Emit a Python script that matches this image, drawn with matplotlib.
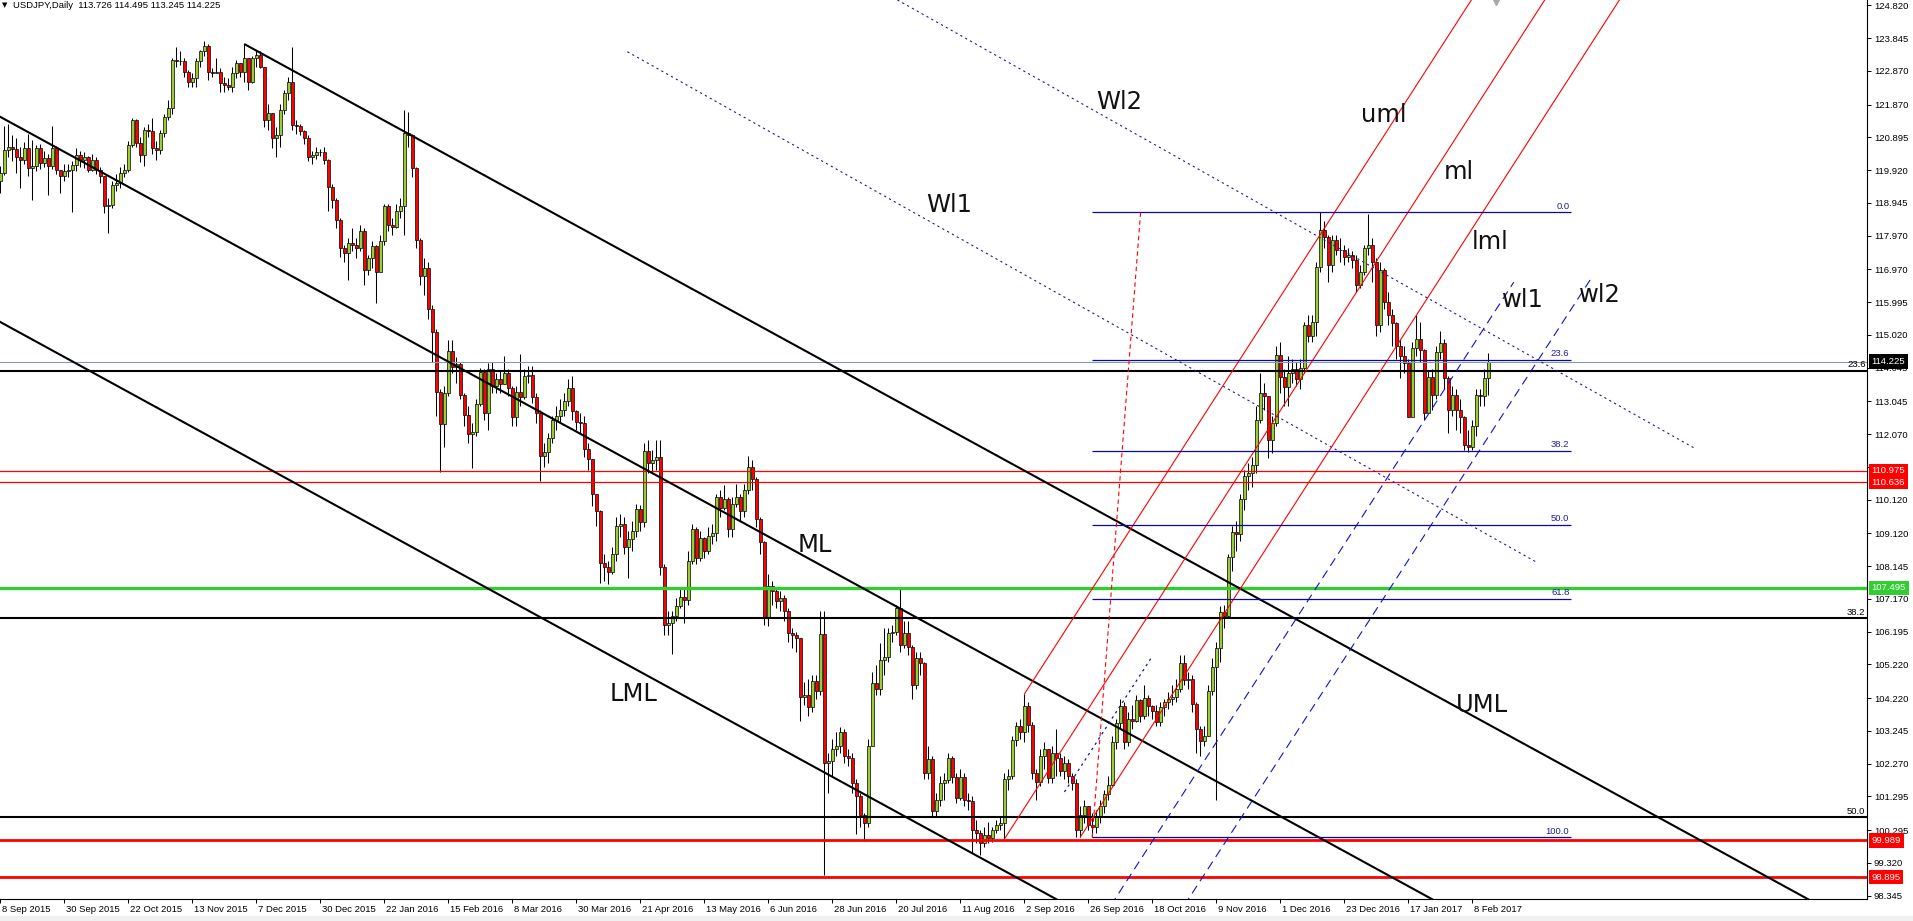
import numpy as np
import matplotlib
matplotlib.use("Agg")
import matplotlib.pyplot as plt
from matplotlib.transforms import blended_transform_factory, ScaledTranslation
from matplotlib.patches import Rectangle

plt.rcParams['font.family'] = ['Liberation Sans', 'DejaVu Sans']

# USDJPY daily bars, bar 0 = 8 Sep 2015, last bar = 14 Feb 2017
first_open = 119.60
closes = [
    119.83, 120.52, 120.62, 120.54, 120.30, 120.22, 120.57, 119.98, 120.05, 120.57,
    120.13, 120.27, 120.03, 120.57, 119.93, 119.73, 119.88, 119.92, 120.08, 120.37,
    120.22, 120.30, 119.93, 120.22, 119.93, 119.73, 118.84, 118.89, 119.48, 119.53,
    119.83, 119.93, 120.67, 121.42, 120.72, 120.37, 121.12, 121.07, 120.57, 120.52,
    121.02, 121.51, 121.76, 123.20, 123.16, 123.15, 122.85, 122.55, 122.65, 123.15,
    123.45, 123.62, 122.85, 122.82, 122.85, 122.52, 122.45, 122.40, 122.80, 123.10,
    122.85, 123.25, 122.55, 123.25, 123.35, 122.99, 121.41, 121.61, 120.87, 120.96,
    121.71, 122.21, 122.55, 121.27, 121.22, 121.07, 120.87, 120.32, 120.37, 120.47,
    120.45, 120.22, 119.43, 119.04, 118.44, 117.60, 117.45, 117.75, 117.70, 117.60,
    118.10, 116.96, 117.30, 117.65, 116.90, 117.80, 118.84, 118.30, 118.24, 118.70,
    118.84, 121.02, 120.97, 119.98, 117.85, 116.76, 117.00, 115.80, 115.10, 113.33,
    112.37, 113.28, 114.55, 114.07, 114.15, 113.22, 112.64, 112.06, 112.12, 112.96,
    113.91, 112.69, 114.02, 113.49, 113.70, 113.55, 113.90, 113.44, 112.59, 113.33,
    113.17, 113.81, 113.84, 113.17, 112.69, 111.42, 111.55, 111.95, 112.48, 112.60,
    112.80, 113.06, 113.44, 112.75, 112.43, 112.40, 111.63, 111.32, 110.30, 109.78,
    108.24, 108.13, 107.98, 108.50, 109.35, 109.40, 108.72, 108.95, 109.20, 109.83,
    109.45, 111.58, 111.21, 111.30, 111.40, 108.13, 106.38, 106.45, 106.65, 106.96,
    107.23, 107.13, 108.29, 109.24, 108.40, 108.98, 108.60, 109.03, 109.14, 110.20,
    109.88, 110.15, 109.25, 110.00, 110.20, 109.78, 110.41, 111.10, 110.73, 109.56,
    108.87, 106.60, 107.55, 107.39, 107.12, 107.20, 106.80, 106.17, 106.10, 106.00,
    104.26, 104.30, 103.95, 104.74, 104.42, 106.12, 102.30, 102.35, 102.70, 102.80,
    103.20, 102.50, 102.45, 101.70, 101.30, 100.75, 100.50, 102.80, 104.67, 104.50,
    105.36, 105.45, 106.15, 106.20, 106.89, 105.81, 106.15, 105.75, 104.60, 105.40,
    105.25, 102.00, 102.40, 100.86, 101.20, 101.70, 101.77, 102.45, 101.88, 101.26,
    101.88, 101.20, 101.15, 100.30, 100.20, 99.90, 100.15, 100.05, 100.30, 100.45,
    100.50, 101.80, 101.90, 102.97, 103.40, 103.20, 103.99, 103.42, 102.00, 101.72,
    102.50, 102.70, 101.83, 102.60, 102.45, 102.05, 102.30, 101.90, 101.70, 100.30,
    100.75, 101.00, 100.46, 100.40, 100.70, 101.00, 101.36, 101.65, 102.90, 103.48,
    103.99, 102.90, 103.60, 103.55, 104.16, 103.70, 104.22, 103.99, 103.85, 103.50,
    103.95, 104.10, 104.20, 104.25, 104.50, 105.25, 104.75, 104.80, 104.05, 103.30,
    102.95, 103.10, 104.44, 105.13, 105.70, 106.78, 106.65, 108.43, 109.17, 109.10,
    110.14, 110.82, 110.90, 111.16, 112.50, 113.30, 113.20, 111.90, 112.40, 114.42,
    113.78, 113.48, 113.90, 114.00, 113.70, 114.03, 115.31, 115.00, 115.40, 117.05,
    118.14, 117.92, 117.10, 117.84, 117.54, 117.55, 117.34, 117.40, 117.25, 116.50,
    116.90, 117.60, 117.70, 117.20, 115.30, 116.95, 116.00, 115.60, 115.36, 114.70,
    114.40, 114.17, 112.59, 114.62, 114.90, 114.57, 112.69, 113.78, 113.23, 114.52,
    114.77, 113.73, 112.78, 113.23, 112.78, 112.59, 111.75, 111.70, 112.30, 113.23,
    113.20, 113.726, 114.225,
]
highs = [
    120.05, 121.22, 121.30, 120.97, 120.87, 120.60, 120.77, 121.00, 120.82, 120.67,
    120.70, 120.50, 120.40, 121.22, 120.65, 119.93, 120.10, 120.10, 120.20, 120.57,
    120.50, 120.45, 120.35, 120.40, 120.30, 120.00, 119.73, 119.10, 119.60, 119.80,
    120.00, 120.10, 120.80, 121.47, 121.43, 120.90, 121.20, 121.30, 121.46, 120.80,
    121.10, 121.60, 121.99, 123.25, 123.59, 123.45, 123.25, 122.90, 122.80, 123.25,
    123.50, 123.75, 123.66, 122.95, 123.25, 122.95, 122.70, 122.65, 123.00, 123.20,
    123.10, 123.67, 123.25, 123.30, 123.50, 123.45, 122.95, 121.90, 121.60, 121.20,
    121.90, 122.30, 122.70, 123.59, 121.40, 121.30, 121.10, 120.95, 120.50, 120.60,
    120.55, 120.60, 120.25, 119.50, 119.10, 118.50, 117.70, 117.90, 118.20, 117.90,
    118.30, 118.20, 117.40, 117.80, 117.70, 118.00, 118.90, 118.90, 118.50, 118.90,
    119.10, 121.70, 121.66, 121.00, 120.00, 117.90, 117.30, 117.20, 115.90, 115.20,
    113.40, 113.50, 114.87, 114.87, 114.35, 114.20, 113.30, 112.90, 112.40, 113.10,
    114.05, 114.00, 114.18, 114.20, 113.90, 113.95, 114.40, 114.00, 113.50, 113.50,
    114.45, 114.00, 114.10, 114.10, 113.30, 112.80, 111.80, 112.10, 112.60, 112.90,
    113.10, 113.30, 113.70, 113.80, 112.80, 112.70, 112.60, 111.80, 111.30, 110.30,
    109.80, 108.50, 108.30, 108.70, 109.60, 109.70, 109.60, 109.20, 109.50, 110.00,
    109.95, 111.80, 111.90, 111.60, 111.90, 111.90, 108.20, 106.80, 106.80, 107.20,
    107.50, 107.50, 108.60, 109.40, 109.30, 109.20, 109.00, 109.30, 109.40, 110.30,
    110.40, 110.57, 110.20, 110.20, 110.60, 110.30, 110.60, 111.42, 111.30, 110.80,
    109.60, 108.90, 107.90, 107.70, 107.50, 107.40, 107.30, 106.90, 106.30, 106.20,
    106.00, 104.70, 104.80, 104.90, 104.90, 106.80, 106.80, 102.60, 103.00, 103.20,
    103.35, 103.30, 102.70, 102.60, 101.80, 101.40, 100.80, 103.00, 105.00, 105.20,
    105.85, 106.30, 106.30, 106.40, 107.00, 107.47, 106.50, 106.50, 105.80, 105.60,
    105.60, 105.30, 102.80, 102.50, 101.40, 101.90, 102.00, 102.60, 102.50, 102.00,
    102.10, 102.00, 101.40, 101.30, 100.60, 100.30, 100.40, 100.55, 100.40, 100.60,
    100.70, 102.00, 102.10, 103.10, 103.50, 103.60, 104.34, 104.10, 103.50, 102.10,
    102.70, 102.90, 102.70, 102.80, 103.30, 102.60, 102.50, 102.40, 102.00, 101.80,
    101.00, 101.20, 101.00, 100.80, 100.90, 101.20, 101.50, 101.90, 103.10, 103.60,
    104.20, 104.10, 103.80, 104.00, 104.30, 104.20, 104.60, 104.30, 104.00, 104.00,
    104.10, 104.20, 104.40, 104.60, 104.80, 105.50, 105.50, 105.00, 104.90, 104.10,
    103.40, 103.40, 104.60, 105.40, 105.90, 106.95, 107.00, 108.50, 109.35, 109.50,
    110.30, 111.00, 111.20, 111.40, 112.90, 113.90, 113.60, 113.00, 112.60, 114.70,
    114.80, 114.00, 114.40, 114.30, 114.20, 114.30, 115.40, 115.60, 115.60, 117.20,
    118.66, 118.40, 118.00, 118.00, 118.00, 117.90, 117.70, 117.60, 117.50, 117.40,
    117.10, 117.70, 118.62, 117.90, 117.30, 117.20, 117.00, 116.30, 115.80, 115.40,
    114.90, 114.70, 114.30, 114.80, 115.60, 115.40, 114.60, 113.95, 114.00, 114.70,
    115.15, 114.90, 113.80, 113.50, 113.40, 113.10, 112.60, 112.20, 112.50, 113.40,
    113.40, 114.00, 114.495,
]
lows = [
    119.25, 119.78, 120.30, 120.20, 119.83, 119.40, 120.10, 119.73, 119.04, 119.90,
    119.95, 120.00, 119.18, 119.95, 119.80, 119.23, 119.60, 119.70, 118.66, 119.90,
    120.00, 119.98, 119.85, 119.90, 119.80, 119.53, 118.64, 118.05, 118.80, 119.30,
    119.40, 119.70, 119.85, 120.60, 120.60, 120.17, 120.03, 120.90, 120.40, 120.22,
    120.40, 120.90, 121.40, 121.60, 123.00, 123.05, 122.70, 122.40, 122.40, 122.40,
    123.00, 123.30, 122.60, 122.70, 122.80, 122.25, 122.25, 122.30, 122.25, 122.65,
    122.70, 122.55, 122.30, 122.50, 123.00, 122.95, 121.20, 121.10, 120.57, 120.32,
    120.60, 121.60, 122.00, 121.10, 121.00, 120.95, 120.70, 120.20, 120.10, 120.25,
    120.35, 120.10, 118.70, 118.80, 118.20, 117.35, 117.20, 116.66, 117.50, 117.30,
    117.50, 116.50, 116.80, 117.00, 115.97, 116.90, 117.70, 118.10, 118.00, 118.20,
    118.50, 118.00, 120.60, 119.70, 117.60, 116.50, 116.20, 115.50, 114.20, 112.60,
    110.94, 111.68, 113.20, 113.90, 113.60, 113.10, 112.32, 111.80, 111.05, 112.00,
    112.90, 112.50, 112.20, 113.30, 113.30, 113.30, 113.60, 113.20, 112.30, 112.30,
    112.90, 113.10, 113.60, 113.00, 112.40, 110.68, 111.10, 111.20, 111.80, 112.20,
    112.40, 112.60, 112.90, 112.50, 112.20, 112.10, 111.40, 111.00, 109.93, 109.35,
    107.65, 107.70, 107.60, 107.90, 108.30, 109.00, 108.50, 107.80, 108.60, 109.00,
    109.20, 109.30, 110.90, 110.90, 111.00, 107.87, 106.10, 106.10, 105.54, 106.50,
    106.90, 106.44, 107.00, 108.20, 108.20, 108.30, 108.40, 108.50, 108.80, 108.90,
    109.60, 109.80, 109.00, 109.00, 109.90, 109.50, 109.60, 110.30, 110.40, 109.30,
    108.50, 106.40, 106.35, 107.00, 106.90, 106.80, 106.50, 105.90, 105.70, 105.60,
    103.55, 104.00, 103.70, 103.80, 104.20, 104.30, 98.96, 101.40, 101.90, 102.50,
    102.60, 102.30, 102.20, 101.40, 100.18, 100.40, 99.97, 100.40, 102.80, 104.30,
    104.30, 104.90, 105.30, 105.90, 106.10, 105.60, 105.70, 105.50, 104.20, 104.50,
    104.90, 101.80, 101.80, 100.70, 100.70, 101.00, 101.20, 101.70, 101.70, 101.10,
    101.20, 101.00, 100.90, 99.60, 99.90, 99.55, 99.80, 99.90, 99.95, 100.20,
    100.30, 100.03, 101.50, 101.80, 102.80, 103.00, 102.90, 103.20, 101.80, 101.20,
    101.60, 102.10, 101.70, 101.70, 101.90, 101.90, 101.80, 101.70, 101.50, 100.10,
    100.09, 100.50, 100.30, 100.08, 100.20, 100.50, 100.80, 101.20, 101.60, 102.70,
    103.30, 102.70, 102.80, 103.30, 103.50, 103.50, 103.60, 103.70, 103.60, 103.40,
    103.40, 103.70, 103.90, 104.00, 104.10, 104.40, 104.60, 104.50, 103.80, 102.60,
    102.50, 102.80, 103.60, 104.30, 101.20, 105.30, 106.30, 106.60, 108.00, 108.60,
    108.90, 109.80, 110.40, 110.50, 110.90, 112.40, 112.80, 111.35, 111.50, 112.30,
    113.30, 112.90, 112.90, 113.60, 113.50, 113.40, 113.90, 114.80, 114.80, 115.00,
    116.90, 117.60, 116.60, 116.90, 117.40, 117.20, 117.10, 117.20, 117.00, 116.30,
    116.40, 116.80, 117.40, 116.60, 115.00, 115.10, 115.80, 115.30, 114.70, 114.30,
    113.75, 113.90, 112.57, 112.60, 114.40, 114.20, 112.50, 112.70, 112.80, 113.10,
    114.30, 113.40, 112.10, 112.60, 112.20, 112.10, 111.60, 111.55, 111.60, 112.00,
    112.90, 112.90, 113.245,
]

date_labels = ["8 Sep 2015", "30 Sep 2015", "22 Oct 2015", "13 Nov 2015", "7 Dec 2015",
               "30 Dec 2015", "22 Jan 2016", "15 Feb 2016", "8 Mar 2016", "30 Mar 2016",
               "21 Apr 2016", "13 May 2016", "6 Jun 2016", "28 Jun 2016", "20 Jul 2016",
               "11 Aug 2016", "2 Sep 2016", "26 Sep 2016", "18 Oct 2016", "9 Nov 2016",
               "1 Dec 2016", "23 Dec 2016", "17 Jan 2017", "8 Feb 2017"]
date_step = 16
price_ticks = [124.820, 123.845, 122.870, 121.870, 120.895, 119.920, 118.945, 117.970,
               116.970, 115.995, 115.020, 114.045, 113.045, 112.070, 111.095, 110.120,
               109.120, 108.145, 107.170, 106.195, 105.220, 104.220, 103.245, 102.270,
               101.295, 100.295, 99.320, 98.345]

# horizontal levels
red_thin_levels = [110.975, 110.636]
red_thick_levels = [99.989, 98.895]
green_level = 107.495
bid_price = 114.225
big_fib_levels = [113.96, 106.60, 100.68]
big_fib_names = ["23.6", "38.2", "50.0"]

# blue fibonacci retracement
fib_top, fib_bottom = 118.66, 100.08
fib_ratios = [0.0, 23.6, 38.2, 50.0, 61.8, 100.0]
fib_bars = (273, 392.6)
fib_trend = [(273, 100.08), (285.1, 118.66)]

# black pitchfork (lines through two points, bar/price)
black_uml = [(61, 123.67), (375.4, 103.22)]
black_ml = [(0.375, 121.48), (357.9, 98.245)]
black_lml = [(0.375, 115.38), (263.1, 98.30)]
warn_upper1 = [(156.8, 123.44), (384.1, 108.26)]
warn_upper2 = [(224.3, 124.98), (423.6, 111.65)]

# red pitchfork (start point + second point on ray)
red_uml = [(256.05, 104.34), (356.05, 122.81)]
red_ml = [(251.05, 100.03), (351.05, 118.50)]
red_lml = [(270.05, 100.09), (370.05, 118.56)]
warn_lower1 = [(278.7, 98.245), (378.4, 116.59)]
warn_lower2 = [(297.05, 98.245), (397.9, 116.73)]
short_dotted = [(266.05, 101.43), (287.9, 105.44)]

# text labels: (text, bar, price of top edge)
line_names = [("Wl2", 274.1, 122.30), ("Wl1", 231.4, 119.24), ("uml", 340.1, 121.91),
              ("ml", 360.9, 120.22), ("lml", 367.9, 118.14), ("wl1", 375.4, 116.41),
              ("wl2", 394.6, 116.56), ("ML", 199.4, 109.13), ("LML", 152.4, 104.70),
              ("UML", 363.9, 104.37)]

W, H = 1913, 921
fig = plt.figure(figsize=(W / 100, H / 100), dpi=100)
fig.patches.append(Rectangle((0, 0), 1, 5 / H, transform=fig.transFigure,
                             color="#F0F0F0", zorder=-5))
ax = fig.add_axes([0, 22 / H, 1867 / W, 899 / H])
ax.set_xlim(-0.05, 466.70)
ax.set_ylim(98.246, 124.978)

# candles
c = np.array(closes)
o = np.concatenate([[first_open], c[:-1]])
hi = np.maximum(np.array(highs), np.maximum(o, c))
lo = np.minimum(np.array(lows), np.minimum(o, c))
idx = np.arange(len(c))
up = c >= o
body = np.where(np.abs(c - o) < 0.01, 0.01, c - o)
ax.vlines(idx, lo, hi, color="black", lw=0.75, zorder=2)
ax.bar(idx[up], body[up], bottom=o[up], width=0.78, color="#9ACD32",
       edgecolor="black", linewidth=0.5, zorder=2.2)
ax.bar(idx[~up], body[~up], bottom=o[~up], width=0.78, color="#FF0000",
       edgecolor="black", linewidth=0.5, zorder=2.2)

# horizontal lines
for lv in red_thin_levels:
    ax.axhline(lv, color="#FF0000", lw=0.9, zorder=3)
for lv in red_thick_levels:
    ax.axhline(lv, color="#FF0000", lw=2.0, zorder=3)
ax.axhline(green_level, color="#32CD32", lw=2.4, zorder=3)
ax.axhline(bid_price, color="#8A9AAA", lw=0.8, zorder=3)
blend = blended_transform_factory(ax.transAxes, ax.transData)
for lv, nm in zip(big_fib_levels, big_fib_names):
    ax.axhline(lv, color="black", lw=1.5, zorder=3)
    ax.text(1 - 1.5 / 1867, lv + 0.04, nm, transform=blend, ha="right", va="bottom",
            fontsize=6.8, color="black", zorder=4)


def through(pts, x_from, x_to):
    (x0, y0), (x1, y1) = pts
    k = (y1 - y0) / (x1 - x0)
    xs = np.array([x_from, x_to])
    return xs, y0 + k * (xs - x0)


# black pitchfork
for pts, start in [(black_uml, black_uml[0][0]), (black_ml, -10), (black_lml, -10)]:
    xs, ys = through(pts, start, 480)
    ax.plot(xs, ys, color="black", lw=1.5, zorder=3, solid_capstyle="butt")
for pts in [warn_upper1, warn_upper2]:
    xs, ys = through(pts, pts[0][0], pts[1][0])
    ax.plot(xs, ys, color="#1A1AA0", lw=0.8, ls=(0, (2, 3)), zorder=3)

# red pitchfork
for pts in [red_uml, red_ml, red_lml]:
    xs, ys = through(pts, pts[0][0], 480)
    ax.plot(xs, ys, color="#FF0000", lw=0.8, zorder=3)
for pts in [warn_lower1, warn_lower2]:
    xs, ys = through(pts, pts[0][0] - 3, pts[1][0])
    ax.plot(xs, ys, color="#1010D0", lw=0.8, ls=(0, (8, 5)), zorder=3)
xs, ys = through(short_dotted, short_dotted[0][0], short_dotted[1][0])
ax.plot(xs, ys, color="#1010C0", lw=0.9, ls=(0, (2, 3)), zorder=3)

# blue fibonacci
for r in fib_ratios:
    lv = fib_top - (fib_top - fib_bottom) * r / 100
    ax.hlines(lv, fib_bars[0], fib_bars[1], color="#0A0A9A", lw=0.9, zorder=3)
    ax.text(fib_bars[1] - 0.3, lv + 0.05, f"{r:.1f}", ha="right", va="bottom",
            fontsize=6.8, color="#1E1E9E", zorder=4)
xs, ys = through(fib_trend, fib_trend[0][0], fib_trend[1][0])
ax.plot(xs, ys, color="#FF0000", lw=0.8, ls=(0, (4, 3)), zorder=3)

# big labels
for txt, bx, py in line_names:
    ax.text(bx, py, txt, ha="left", va="top", fontsize=17.5, color="#111111",
            family="DejaVu Sans", zorder=5)

# shift marker
ax.plot([len(c) + 0.9], [124.93], marker="v", color="#A8A8A8", ms=4, zorder=5,
        clip_on=False)

# header
ax.text(2 / 1867, 1 - 2.5 / 899, "\u25bc", transform=ax.transAxes, ha="left", va="top",
        fontsize=5, family="DejaVu Sans", color="black")
ax.text(13 / 1867, 1 - 1.5 / 899,
        f"USDJPY,Daily  {o[-1]:.3f} {highs[-1]:.3f} {lows[-1]:.3f} {closes[-1]:.3f}",
        transform=ax.transAxes, ha="left", va="top", fontsize=6.8, color="black")

# axes
for side in ["left", "top"]:
    ax.spines[side].set_visible(False)
for side in ["right", "bottom"]:
    ax.spines[side].set_color("black")
    ax.spines[side].set_linewidth(0.8)
ax.yaxis.tick_right()
ax.set_yticks(price_ticks, [f"{v:.3f}" for v in price_ticks])
ax.set_xticks(np.arange(len(date_labels)) * date_step, date_labels)
ax.tick_params(axis="y", length=3, width=0.7, pad=2, labelsize=6.8)
ax.tick_params(axis="x", length=3, width=0.7, pad=1.5, labelsize=6.8)
shift = ScaledTranslation(2 / 100, 0, fig.dpi_scale_trans)
for lbl in ax.get_xticklabels():
    lbl.set_horizontalalignment("left")
    lbl.set_transform(lbl.get_transform() + shift)

# highlighted price labels on the axis
boxes = [(bid_price, "black"), (red_thin_levels[0], "#FF0000"), (red_thin_levels[1], "#FF0000"),
         (green_level, "#32CD32"), (red_thick_levels[0], "#FF0000"),
         (red_thick_levels[1], "#FF0000")]
for lv, col in boxes:
    ax.text(1 + 4.5 / 1867, lv, f"{lv:.3f}", transform=blend, ha="left", va="center",
            fontsize=6.8, color="white", zorder=6, clip_on=False,
            bbox=dict(boxstyle="square,pad=0.28", fc=col, ec="none"))

fig.savefig("out.png", dpi=100, facecolor="white")
